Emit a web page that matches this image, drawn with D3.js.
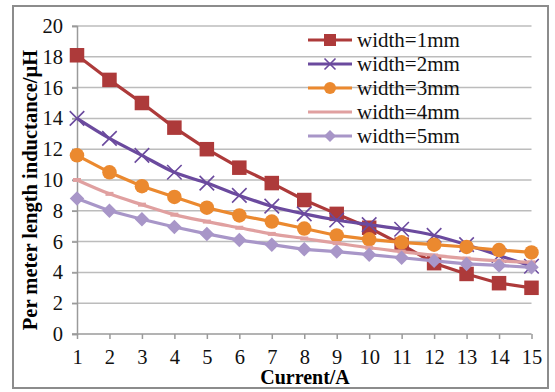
<!DOCTYPE html>
<html><head><meta charset="utf-8">
<script src="https://cdn.jsdelivr.net/npm/d3@7/dist/d3.min.js"></script>
<style>body{margin:0;background:#fff}svg{display:block}</style>
</head><body>
<script>
const FONT = "'Liberation Serif', 'Times New Roman', Tinos, serif";
const currents = [1,2,3,4,5,6,7,8,9,10,11,12,13,14,15];
const yTicks = [0,2,4,6,8,10,12,14,16,18,20];
const seriesNames = ["width=1mm","width=2mm","width=3mm","width=4mm","width=5mm"];
const w1 = [18.1,16.5,15.0,13.4,12.0,10.8,9.8,8.7,7.8,6.9,5.8,4.6,3.9,3.3,3.0];
const w2 = [14.0,12.7,11.6,10.5,9.8,9.0,8.3,7.8,7.4,7.1,6.8,6.4,5.8,5.1,4.4];
const w3 = [11.6,10.5,9.6,8.9,8.2,7.7,7.3,6.85,6.4,6.15,5.95,5.8,5.65,5.45,5.3];
const w4 = [10.0,9.1,8.4,7.75,7.3,6.9,6.5,6.2,5.9,5.6,5.35,5.1,4.9,4.75,4.65];
const w5 = [8.8,8.0,7.45,6.95,6.5,6.1,5.8,5.5,5.35,5.15,4.95,4.75,4.55,4.45,4.33];
const colors = ["#ad3a3a","#6b4a9e","#eb892f","#e0a0a0","#a896c8"];
const markers = ["square","x","circle","dash","diamond"];

const data = [w1,w2,w3,w4,w5];
const W=555,H=392;
const svg=d3.select("body").append("svg").attr("width",W).attr("height",H)
  .style("font-family",FONT);
svg.append("rect").attr("x",13).attr("y",6).attr("width",535).attr("height",382).attr("fill","#fff").attr("stroke","#8c8c8c").attr("stroke-width",2);

const x=d3.scaleLinear().domain([1,15]).range([77,531.5]);
const y=d3.scaleLinear().domain([0,20]).range([334,26]);

svg.append("g").selectAll("line").data(yTicks.filter(d=>d>0)).join("line")
 .attr("x1",x(1)-5).attr("x2",x(15)).attr("y1",d=>y(d)).attr("y2",d=>y(d))
 .attr("stroke","#bcbcbc").attr("stroke-width",1.5);

const ya=svg.append("g").attr("transform",`translate(${x(1)},0)`)
 .call(d3.axisLeft(y).tickValues(yTicks).tickSize(5).tickPadding(9));
ya.attr("font-family",null).attr("font-size",null);
ya.select(".domain").attr("stroke","#9a9a9a").attr("stroke-width",1.5);
ya.selectAll(".tick line").attr("stroke","#9a9a9a").attr("stroke-width",1.5);
ya.selectAll("text").attr("font-size",20.5).attr("fill","#111").style("font-family",FONT);

const xa=svg.append("g").attr("transform",`translate(0,${y(0)})`)
 .call(d3.axisBottom(x).tickValues(currents).tickSize(5).tickPadding(10).tickSizeOuter(0));
xa.attr("font-family",null).attr("font-size",null);
xa.select(".domain").attr("stroke","#9a9a9a").attr("stroke-width",1.5).attr("d",`M${x(1)-5},0H${x(15)}`);
xa.selectAll(".tick line").attr("stroke","#9a9a9a").attr("stroke-width",1.5);
xa.selectAll("text").attr("font-size",20.5).attr("fill","#111").style("font-family",FONT);

svg.append("text").attr("x",305).attr("y",384).attr("text-anchor","middle")
 .attr("font-size",20).attr("font-weight","bold").style("font-family",FONT).text("Current/A");
svg.append("text").attr("transform","translate(37,190) rotate(-90)").attr("text-anchor","middle")
 .attr("font-size",20.5).attr("font-weight","bold").style("font-family",FONT).text("Per meter length inductance/µH");

function drawMarker(g,type,cx,cy,col,s){
  if(type==="square") g.append("rect").attr("x",cx-s/2).attr("y",cy-s/2).attr("width",s).attr("height",s).attr("fill",col);
  else if(type==="circle") g.append("circle").attr("cx",cx).attr("cy",cy).attr("r",s/2).attr("fill",col);
  else if(type==="diamond") g.append("path").attr("d",`M${cx},${cy-s/2}L${cx+s/2},${cy}L${cx},${cy+s/2}L${cx-s/2},${cy}Z`).attr("fill",col);
  else if(type==="x"){const h=s/2;g.append("path").attr("d",`M${cx-h},${cy-h}L${cx+h},${cy+h}M${cx-h},${cy+h}L${cx+h},${cy-h}`).attr("stroke",col).attr("stroke-width",1.6).attr("fill","none");}
  else if(type==="dash") g.append("rect").attr("x",cx-4).attr("y",cy-2).attr("width",8).attr("height",4).attr("fill",col);
}

data.forEach((vals,i)=>{
  const g=svg.append("g");
  const line=d3.line().x((d,j)=>x(currents[j])).y(d=>y(d))
    .curve((i===1||i===3)?d3.curveMonotoneX:d3.curveLinear);
  g.append("path").attr("d",line(vals)).attr("fill","none").attr("stroke",colors[i]).attr("stroke-width",3.2);
  vals.forEach((v,j)=>drawMarker(g,markers[i],x(currents[j]),y(v),colors[i],14.5));
});

const ly=[40,64,88,112,136];
seriesNames.forEach((n,i)=>{
  const g=svg.append("g");
  g.append("line").attr("x1",308).attr("x2",352).attr("y1",ly[i]).attr("y2",ly[i]).attr("stroke",colors[i]).attr("stroke-width",3);
  if(markers[i]!=="dash") drawMarker(g,markers[i],330,ly[i],colors[i],markers[i]==="x"?11:12);
  g.append("text").attr("x",357).attr("y",ly[i]).attr("dy","0.35em").attr("font-size",21).attr("fill","#111").style("font-family",FONT).text(n);
});
</script>
</body></html>
